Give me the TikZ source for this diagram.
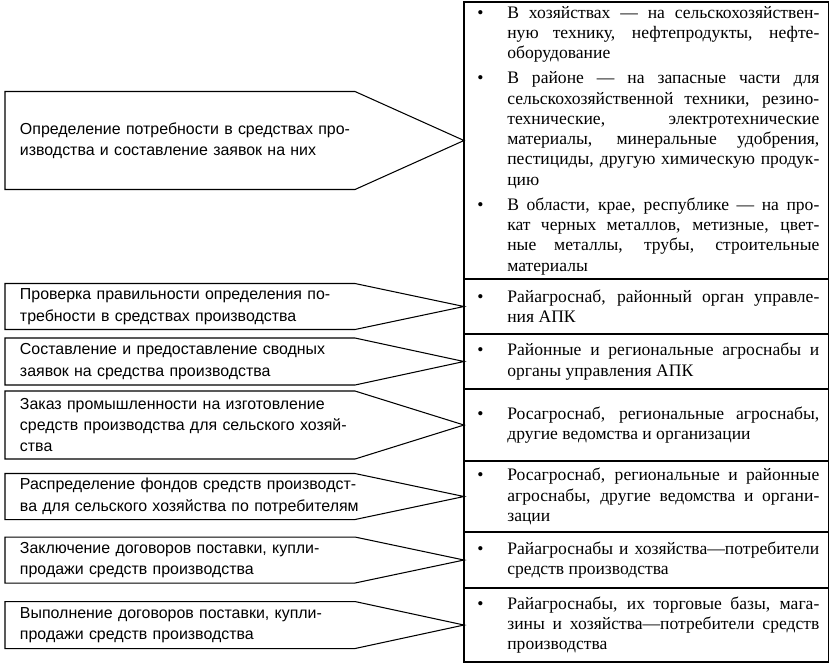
\documentclass[tikz,border=0pt]{standalone}
\usepackage{fontspec}
\setmainfont{Liberation Serif}
\newfontfamily\stagefont{Liberation Sans}
\usetikzlibrary{positioning}
\hyphenpenalty=10000

% bullet item with hanging indent
\newcommand{\itm}{\hangindent=1.02cm\hangafter=1\noindent\makebox[1.02cm][l]{\hspace{0.12cm}\textbullet}\ignorespaces}

\begin{document}
\begin{tikzpicture}[x=0.03cm, y=-0.03cm, every node/.style={outer sep=0pt}]
\tikzstyle{row}=[draw, line width=1.2pt, text width=10.38cm, inner xsep=0.28cm, inner ysep=0.1cm, align=justify, font=\fontsize{15}{17.3}\selectfont]
\tikzstyle{stage}=[text width=10.3cm, inner xsep=0.45cm, inner ysep=0pt, align=left, font=\stagefont\fontsize{13.6}{18.3}\selectfont]
\tikzstyle{pointer}=[line width=0.9pt, line join=miter]
\useasboundingbox (0,0) rectangle (835,668);

% right column
\node[row, anchor=north west, minimum height=8.31cm] (r1) at (464,2) {\itm В хозяйствах — на сельскохозяйствен-\linebreak ную технику, нефтепродукты, нефте-\linebreak оборудование\par\vspace{0.15cm}
\itm В районе — на запасные части для\linebreak сельскохозяйственной техники, резино-\linebreak технические, электротехнические\linebreak материалы, минеральные удобрения,\linebreak пестициды, другую химическую продук-\linebreak цию\par\vspace{0.15cm}
\itm В области, крае, республике — на про-\linebreak кат черных металлов, метизные, цвет-\linebreak ные металлы, трубы, строительные\linebreak материалы\par};
\node[row, below=0pt of r1, minimum height=1.65cm] (r2) {\itm Райагроснаб, районный орган управле-\linebreak ния АПК\par};
\node[row, below=0pt of r2, minimum height=1.65cm] (r3) {\itm Районные и региональные агроснабы и\linebreak органы управления АПК\par};
\node[row, below=0pt of r3, minimum height=2.16cm] (r4) {\itm Росагроснаб, региональные агроснабы,\linebreak другие ведомства и организации\par};
\node[row, below=0pt of r4, minimum height=2.13cm] (r5) {\itm Росагроснаб, региональные и районные\linebreak агроснабы, другие ведомства и органи-\linebreak зации\par};
\node[row, below=0pt of r5, minimum height=1.68cm] (r6) {\itm Райагроснабы и хозяйства—потребители\linebreak средств производства\par};
\node[row, below=0pt of r6, minimum height=2.22cm] (r7) {\itm Райагроснабы, их торговые базы, мага-\linebreak зины и хозяйства—потребители средств\linebreak производства\par};

% left stages
\node[stage, left=2.57cm of r1, minimum height=2.94cm] (l1) {Определение потребности в средствах про-\\изводства и составление заявок на них};
\node[stage, left=2.57cm of r2, minimum height=1.38cm] (l2) {Проверка правильности определения по-\\требности в средствах производства};
\node[stage, left=2.57cm of r3, minimum height=1.41cm] (l3) {Составление и предоставление сводных\\заявок на средства производства};
\node[stage, left=2.57cm of r4, minimum height=2.04cm] (l4) {\makebox[9.75cm][s]{Заказ промышленности на изготовление}\\средств производства для сельского хозяй-\\ства};
\node[stage, left=2.57cm of r5, minimum height=1.38cm] (l5) {Распределение фондов средств производст-\\ва для сельского хозяйства по потребителям};
\node[stage, left=2.57cm of r6, minimum height=1.38cm] (l6) {Заключение договоров поставки, купли-\\продажи средств производства};
\node[stage, left=2.57cm of r7, minimum height=1.41cm] (l7) {Выполнение договоров поставки, купли-\\продажи средств производства};

\foreach \i in {1,...,7}
  \draw[pointer] (l\i.north west) -- ([xshift=-7mm]l\i.north east) -- (r\i.west) -- ([xshift=-7mm]l\i.south east) -- (l\i.south west) -- cycle;
\end{tikzpicture}
\end{document}
